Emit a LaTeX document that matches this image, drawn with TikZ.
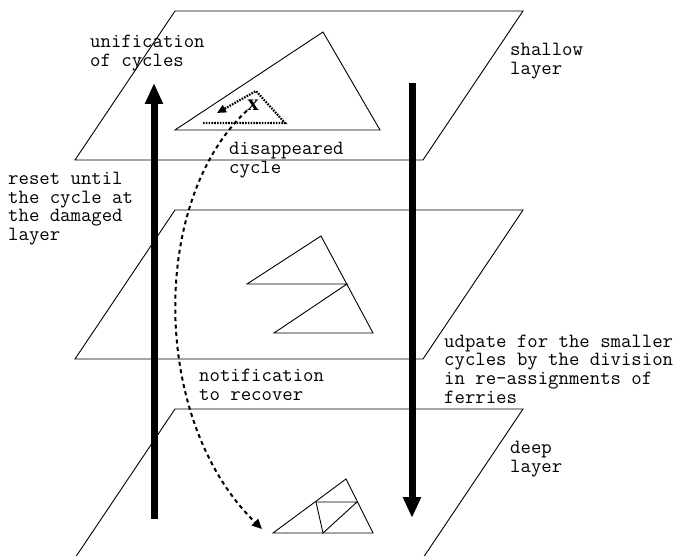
\documentclass[tikz,border=0pt]{standalone}
\usepackage{fontspec}
\newfontfamily\markfont{Liberation Serif}
\usetikzlibrary{arrows.meta}

\begin{document}
\begin{tikzpicture}[x=1pt,y=-1pt,
  plane/.style={draw=black,line width=0.9pt},
  tri/.style={draw=black,line width=0.9pt},
  note/.style={anchor=west,align=left,inner sep=0pt,
  font=\ttfamily\fontsize{20.2}{18.6}\selectfont},
  flow/.style={line width=7pt,-{Triangle[length=21pt,width=17pt]}},
  hint/.style={line width=2pt,dash pattern=on 4pt off 3.5pt,
  -{Triangle[length=10pt,width=9pt]}}]
\clip (0,0) rectangle (679,556);
\foreach \y in {11,210,409}
  \draw[plane] (75,\y+149) -- (175,\y) -- (523,\y) -- (423,\y+149) -- cycle;
\draw[tri] (175,130) -- (323,32) -- (380,130) -- cycle;
\draw[tri] (247,284) -- (321,236) -- (373,333) -- (274,333) -- (347,284) -- cycle;
\draw[tri] (273,533) -- (346,479) -- (373,533) -- cycle;
\draw[tri] (316,502) -- (357,502) -- (323,533) -- cycle;
\draw[line width=2.2pt,dash pattern=on 1.6pt off 1.2pt,-{Triangle[length=9pt,width=8pt]}]
  (203,123) -- (285,123) -- (256,91) -- (217,113);
\node[inner sep=0pt,font=\markfont\bfseries\fontsize{23}{23}\selectfont] (xmark) at (253,105) {x};
\coordinate (upfrom) at (154,519);
\coordinate (upto) at (154,83);
\coordinate (downfrom) at (412,83);
\coordinate (downto) at (412,518);
\coordinate (deeptarget) at (262,529);
\draw[flow] (upfrom) -- (upto);
\draw[flow] (downfrom) -- (downto);
\draw[hint] (xmark.south west) .. controls (150,200) and (150,420) .. (deeptarget);
\node[note] (unify) at (90,53) {unification\\of cycles};
\node[note] (shallow) at (510,61) {shallow\\layer};
\node[note] (gone) at (229,160) {disappeared\\cycle};
\node[note] (reset) at (8,208.5) {reset until\\the cycle at\\the damaged\\layer};
\node[note] (update) at (444,369) {udpate for the smaller\\cycles by the division\\in re-assignments of\\ferries};
\node[note] (notify) at (199,385) {notification\\to recover};
\node[note] (deep) at (510,459) {deep\\layer};
\end{tikzpicture}
\end{document}
